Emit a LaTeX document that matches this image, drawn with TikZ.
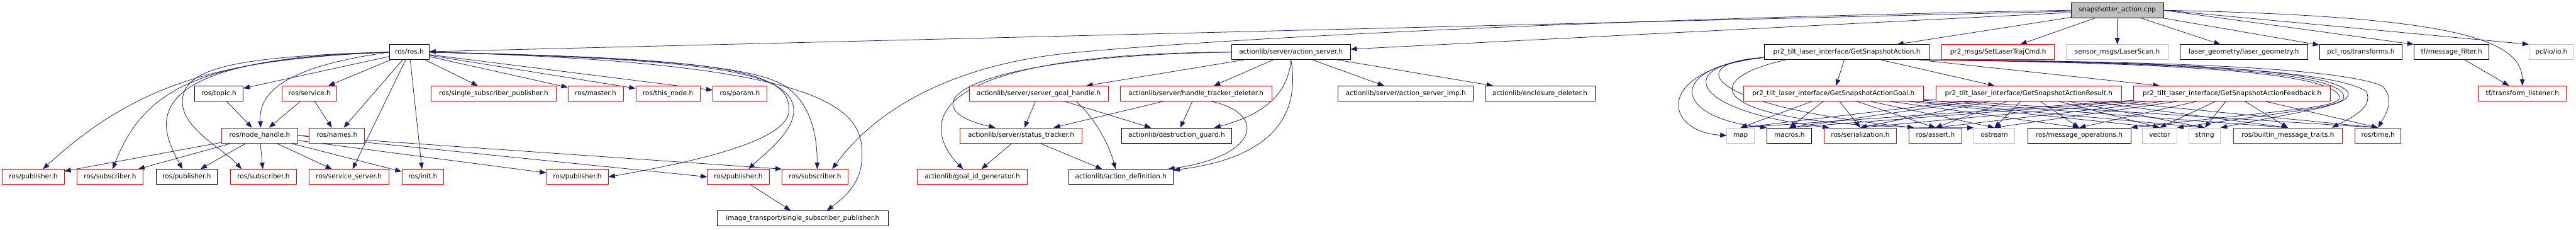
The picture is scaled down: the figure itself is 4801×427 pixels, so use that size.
\documentclass[tikz,border=0pt]{standalone}
\usepackage{fontspec}
\setmainfont{DejaVu Sans}
\usetikzlibrary{calc,arrows.meta}
\definecolor{edgeNavy}{RGB}{25,25,112}
\definecolor{boxRed}{RGB}{255,0,0}
\definecolor{boxGray}{RGB}{191,191,191}
\pgfdeclarelayer{edges}
\pgfsetlayers{edges,main}
\tikzset{
  hdr/.style={draw=black,fill=white,line width=1pt,minimum height=28pt,inner sep=0pt,
    text height=9pt,text depth=2.6pt,font=\fontsize{12.3}{14}\selectfont},
  hdrRed/.style={hdr,draw=boxRed},
  hdrGray/.style={hdr,draw=boxGray},
  inc/.style={draw=edgeNavy,line width=0.9pt,-{Triangle[length=12pt,width=9pt]}}
}

\begin{document}
\begin{tikzpicture}[x=1pt,y=-1pt]
\useasboundingbox (0,0) rectangle (4801,427);
% file itself
\node[hdr,fill=boxGray,minimum width=172pt] (snap) at (3946,19) {snapshotter\_action.cpp};
% first level
\node[hdr,minimum width=73pt] (ros) at (763,97) {ros/ros.h};
\node[hdr,minimum width=221pt] (asrv) at (2406,97) {actionlib/server/action\_server.h};
\node[hdr,minimum width=307pt] (gsa) at (3442,97) {pr2\_tilt\_laser\_interface/GetSnapshotAction.h};
\node[hdrRed,minimum width=210pt] (setl) at (3724,97) {pr2\_msgs/SetLaserTrajCmd.h};
\node[hdrGray,minimum width=191pt] (lscan) at (3946,97) {sensor\_msgs/LaserScan.h};
\node[hdr,minimum width=237pt] (lgeo) at (4182,97) {laser\_geometry/laser\_geometry.h};
\node[hdr,minimum width=154pt] (pclt) at (4400,97) {pcl\_ros/transforms.h};
\node[hdr,minimum width=140pt] (tfmf) at (4569,97) {tf/message\_filter.h};
\node[hdrGray,minimum width=83pt] (pclio) at (4755,97) {pcl/io/io.h};
% second level
\node[hdr,minimum width=90pt] (topic) at (408,174) {ros/topic.h};
\node[hdrRed,minimum width=102pt] (service) at (577,174) {ros/service.h};
\node[hdrRed,minimum width=233pt] (ssp) at (920,174) {ros/single\_subscriber\_publisher.h};
\node[hdrRed,minimum width=103pt] (master) at (1110,174) {ros/master.h};
\node[hdrRed,minimum width=120pt] (thisnode) at (1245,174) {ros/this\_node.h};
\node[hdrRed,minimum width=101pt] (param) at (1379,174) {ros/param.h};
\node[hdrRed,minimum width=259pt] (sgh) at (1936,174) {actionlib/server/server\_goal\_handle.h};
\node[hdrRed,minimum width=282pt] (htd) at (2229,174) {actionlib/server/handle\_tracker\_deleter.h};
\node[hdr,minimum width=252pt] (asimp) at (2620,174) {actionlib/server/action\_server\_imp.h};
\node[hdr,minimum width=205pt] (encl) at (2870,174) {actionlib/enclosure\_deleter.h};
\node[hdrRed,minimum width=336pt] (goal) at (3417,174) {pr2\_tilt\_laser\_interface/GetSnapshotActionGoal.h};
\node[hdrRed,minimum width=346pt] (result) at (3781,174) {pr2\_tilt\_laser\_interface/GetSnapshotActionResult.h};
\node[hdrRed,minimum width=367pt] (feedback) at (4160,174) {pr2\_tilt\_laser\_interface/GetSnapshotActionFeedback.h};
\node[hdrRed,minimum width=164pt] (tfl) at (4701,174) {tf/transform\_listener.h};
% third level
\node[hdrRed,minimum width=141pt] (nh) at (484,252) {ros/node\_handle.h};
\node[hdrRed,minimum width=103pt] (names) at (628,252) {ros/names.h};
\node[hdrRed,minimum width=227pt] (stat) at (1903,252) {actionlib/server/status\_tracker.h};
\node[hdr,minimum width=206pt] (dguard) at (2193,252) {actionlib/destruction\_guard.h};
\node[hdrGray,minimum width=51pt] (map) at (3244,252) {map};
\node[hdr,minimum width=83pt] (macros) at (3335,252) {macros.h};
\node[hdrRed,minimum width=135pt] (ser) at (3467,252) {ros/serialization.h};
\node[hdrRed,minimum width=99pt] (assert) at (3607,252) {ros/assert.h};
\node[hdrGray,minimum width=76pt] (ostream) at (3717,252) {ostream};
\node[hdr,minimum width=192pt] (msgops) at (3875,252) {ros/message\_operations.h};
\node[hdrGray,minimum width=64pt] (vector) at (4025,252) {vector};
\node[hdrGray,minimum width=58pt] (string) at (4109,252) {string};
\node[hdrRed,minimum width=203pt] (bmt) at (4264,252) {ros/builtin\_message\_traits.h};
\node[hdrRed,minimum width=86pt] (time) at (4432,252) {ros/time.h};
% fourth level
\node[hdrRed,minimum width=115pt] (pubA) at (62,329) {ros/publisher.h};
\node[hdrRed,minimum width=124pt] (subA) at (205,329) {ros/subscriber.h};
\node[hdr,minimum width=114pt] (pubB) at (348,329) {ros/publisher.h};
\node[hdrRed,minimum width=123pt] (subB) at (491,329) {ros/subscriber.h};
\node[hdrRed,minimum width=149pt] (srvsrv) at (650,329) {ros/service\_server.h};
\node[hdrRed,minimum width=78pt] (init) at (788,329) {ros/init.h};
\node[hdrRed,minimum width=115pt] (pubC) at (1076,329) {ros/publisher.h};
\node[hdrRed,minimum width=115pt] (pubD) at (1376,329) {ros/publisher.h};
\node[hdrRed,minimum width=123pt] (subC) at (1519,329) {ros/subscriber.h};
\node[hdrRed,minimum width=206pt] (gidg) at (1812,329) {actionlib/goal\_id\_generator.h};
\node[hdr,minimum width=195pt] (adef) at (2089,329) {actionlib/action\_definition.h};
% fifth level
\node[hdr,minimum width=318pt] (itssp) at (1496,406) {image\_transport/single\_subscriber\_publisher.h};

\begin{pgfonlayer}{edges}
% includes of the file itself
\foreach \dst in {ros,asrv,gsa,setl,lscan,lgeo,pclt}
  \draw[inc] (snap) -- (\dst);
\draw[inc] (snap.east) -- (tfmf.north west);
\draw[inc] (snap.east) -- (pclio.north west);
\draw[inc] (snap.east) .. controls (4560,30) and (4700,70) .. (tfl.north);
\draw[inc] (snap.west) .. controls (3000,35) and (2300,70) .. (2000,98)
  .. controls (1750,122) and (1620,220) .. ($(subC.north east)-(30,0)$);
\draw[inc] (tfmf) -- (tfl);

% ros/ros.h
\foreach \dst in {topic,service,names,srvsrv,init,ssp,master,thisnode,param}
  \draw[inc] (ros) -- (\dst);
\draw[inc] (ros.west) .. controls (420,110) and (260,150) .. ($(pubA.north)+(18,0)$);
\draw[inc] (ros.west) .. controls (380,110) and (270,160) .. ($(subA.north)+(5,0)$);
\draw[inc] (ros.west) .. controls (230,108) and (300,240) .. ($(pubB.north)-(8,0)$);
\draw[inc] (ros.west) .. controls (420,105) and (340,130) .. (340,190)
  .. controls (340,240) and (420,280) .. ($(subB.north west)+(21,0)$);
\draw[inc] (ros.west) .. controls (560,120) and (480,160) .. ($(nh.north)+(2,0)$);
\draw[inc] (ros.east) .. controls (1300,108) and (1470,125) .. (1470,200)
  .. controls (1480,260) and (1300,300) .. (pubC.east);
\draw[inc] (ros.east) .. controls (1300,110) and (1460,130) .. (1478,195)
  .. controls (1490,240) and (1420,290) .. ($(pubD.north)+(19,0)$);
\draw[inc] (ros.east) .. controls (1250,108) and (1420,125) .. (1470,165)
  .. controls (1515,200) and (1523,260) .. ($(subC.north)+(4,0)$);
\draw[inc] (ros.east) .. controls (1500,115) and (1610,190) .. (1606,285)
  .. controls (1610,340) and (1570,370) .. ($(itssp.north)+(45,0)$);

% ros/topic.h, ros/service.h, ros/node_handle.h
\draw[inc] (topic) -- (nh);
\draw[inc] (service) -- (nh);
\draw[inc] (service) -- (names);
\foreach \dst in {pubA,subA,pubB,subB,srvsrv,init,pubC}
  \draw[inc] (nh) -- (\dst);
\draw[inc] (nh.east) -- (pubD.west);
\draw[inc] (nh.east) -- (subC.north west);
\draw[inc] (pubD) -- (itssp);

% actionlib/server/action_server.h
\foreach \dst in {sgh,htd,asimp,encl}
  \draw[inc] (asrv) -- (\dst);
\draw[inc] (asrv.west) .. controls (1780,105) and (1690,200) .. ($(stat.north)-(48,0)$);
\draw[inc] (asrv.west) .. controls (1650,100) and (1740,260) .. ($(gidg.north)-(17,0)$);
\draw[inc] (asrv.south) .. controls (2400,190) and (2330,220) .. ($(dguard.north)+(70,0)$);
\draw[inc] (asrv.south) .. controls (2430,250) and (2320,300) .. ($(adef.north east)+(0,2)$);
\draw[inc] (sgh) -- (stat);
\draw[inc] (sgh) -- (dguard);
\draw[inc] ($(sgh.south)+(70,0)$) .. controls (2050,230) and (2070,280) .. ($(adef.north)-(10,0)$);
\draw[inc] (htd) -- (stat);
\draw[inc] (htd) -- (dguard);
\draw[inc] ($(htd.south)+(28,0)$) .. controls (2360,210) and (2350,290) .. ($(adef.north east)-(10,0)$);
\draw[inc] (stat) -- (gidg);
\draw[inc] (stat) -- (adef);

% pr2_tilt_laser_interface messages
\foreach \dst in {goal,result,feedback}
  \draw[inc] (gsa) -- (\dst);
\draw[inc] ($(gsa.west)+(0,10)$) .. controls (3080,130) and (3100,245) .. (map.west);
\draw[inc] ($(gsa.west)+(0,10)$) .. controls (3100,125) and (3120,220) .. (macros.north west);
\draw[inc] ($(gsa.west)+(0,10)$) .. controls (3120,120) and (3140,205) .. ($(ser.north west)+(10,0)$);
\draw[inc] ($(gsa.west)+(0,10)$) .. controls (3140,115) and (3160,195) .. ($(assert.north west)+(10,0)$);
\draw[inc] ($(gsa.south west)+(40,0)$) .. controls (3150,150) and (3180,240) .. (ostream.north west);
\draw[inc] (gsa.south east) .. controls (3900,113) and (4350,120) .. (4440,160)
  .. controls (4465,185) and (4445,215) .. (time.north);
\draw[inc] (gsa.south east) .. controls (3900,114) and (4340,122) .. (4410,170)
  .. controls (4425,200) and (4380,220) .. ($(bmt.north east)-(20,0)$);
\draw[inc] (gsa.south east) .. controls (3900,114) and (4330,120) .. (4375,170)
  .. controls (4390,195) and (4300,205) .. (string.north east);
\draw[inc] (gsa.south east) .. controls (3900,115) and (4320,122) .. (4365,172)
  .. controls (4385,198) and (4320,200) .. (vector.north east);
\draw[inc] (gsa.south east) .. controls (3900,116) and (4310,124) .. (4357,174)
  .. controls (4378,200) and (4300,200) .. (msgops.north east);
\foreach \src in {goal,result,feedback}
  \foreach \dst in {map,macros,ser,assert,ostream,msgops,vector,string,bmt,time}
    \draw[inc] (\src) -- (\dst.north);
\end{pgfonlayer}
\end{tikzpicture}
\end{document}
